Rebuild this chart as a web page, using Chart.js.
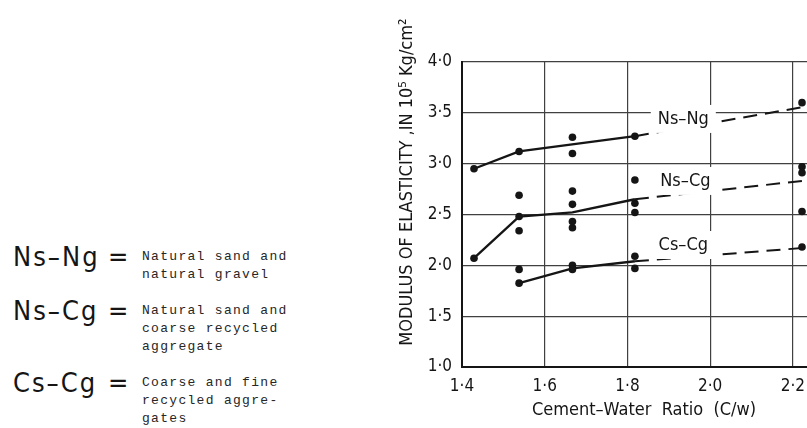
<!DOCTYPE html>
<html><head><meta charset="utf-8">
<script src="https://cdn.jsdelivr.net/npm/chart.js@4/dist/chart.umd.min.js"></script>
<style>
html,body{margin:0;padding:0;width:807px;height:428px;overflow:hidden;background:#fff;}
#wrap{position:absolute;left:340px;top:0;width:520px;height:428px;}
.row{position:absolute;left:0;width:330px;}
.key{position:absolute;left:13px;top:-6px;font-family:'DejaVu Sans Condensed','DejaVu Sans',sans-serif;font-size:27px;letter-spacing:2px;line-height:30px;color:#151515;white-space:nowrap;}
.eq{position:absolute;left:108px;top:-6px;font-family:'DejaVu Sans Condensed','DejaVu Sans',sans-serif;font-size:27px;line-height:30px;color:#151515;}
.desc{position:absolute;left:142px;top:0;font-family:'Liberation Mono','DejaVu Sans Mono',monospace;font-size:13px;letter-spacing:1.3px;line-height:18px;color:#262626;white-space:pre;}
#r0{top:248px;} #r1{top:302px;} #r2{top:374px;}
</style></head><body>
<div id="legend"><div class="row" id="r0"></div><div class="row" id="r1"></div><div class="row" id="r2"></div></div>
<div id="wrap"><canvas id="c" width="520" height="428"></canvas></div>
<script>
// ---- data ----
const seriesNames = ['Ns\u2013Ng', 'Ns\u2013Cg', 'Cs\u2013Cg'];
const seriesDescriptions = [
  'Natural sand and\nnatural gravel',
  'Natural sand and\ncoarse recycled\naggregate',
  'Coarse and fine\nrecycled aggre-\ngates'
];
const xTickValues = [1.4, 1.6, 1.8, 2.0, 2.2];
const yTickValues = [1.0, 1.5, 2.0, 2.5, 3.0, 3.5, 4.0];

// Ns-Ng
const nsNgPointsX = [1.429, 1.538, 1.667, 1.667, 1.818, 2.222];
const nsNgPointsY = [2.95, 3.12, 3.26, 3.10, 3.27, 3.60];
const nsNgSolidX = [1.429, 1.538, 1.818];
const nsNgSolidY = [2.95, 3.12, 3.27];
const nsNgDashX = [1.818, 2.222];
const nsNgDashY = [3.27, 3.555];
// Ns-Cg
const nsCgPointsX = [1.429, 1.538, 1.538, 1.538, 1.667, 1.667, 1.667, 1.667, 1.818, 1.818, 1.818, 2.222, 2.222, 2.222];
const nsCgPointsY = [2.07, 2.69, 2.48, 2.34, 2.73, 2.60, 2.43, 2.37, 2.84, 2.61, 2.52, 2.97, 2.91, 2.53];
const nsCgSolidX = [1.429, 1.538, 1.667, 1.818];
const nsCgSolidY = [2.07, 2.48, 2.52, 2.65];
const nsCgDashX = [1.818, 2.222];
const nsCgDashY = [2.65, 2.83];
// Cs-Cg
const csCgPointsX = [1.538, 1.538, 1.667, 1.667, 1.818, 1.818, 2.222];
const csCgPointsY = [1.96, 1.825, 2.00, 1.96, 2.09, 1.97, 2.18];
const csCgSolidX = [1.538, 1.667, 1.818];
const csCgSolidY = [1.825, 1.97, 2.04];
const csCgDashX = [1.818, 2.222];
const csCgDashY = [2.04, 2.17];
// in-plot label anchors (data coordinates)
const labelAnchorX = [1.935, 1.94, 1.935];
const labelAnchorY = [3.44, 2.83, 2.20];

// ---- legend ----
seriesNames.forEach((n, i) => {
  const r = document.getElementById('r' + i);
  r.innerHTML = '<span class="key"></span><span class="eq">=</span><div class="desc"></div>';
  r.querySelector('.key').textContent = n;
  r.querySelector('.desc').textContent = seriesDescriptions[i];
});

// ---- chart ----
const FONT = "'DejaVu Sans Condensed','DejaVu Sans',sans-serif";
const pts = (xs, ys) => xs.map((x, i) => ({x, y: ys[i]}));
const INK = '#151515';
const lineDs = (xs, ys, dash) => ({
  data: pts(xs, ys), showLine: true, borderColor: INK, borderWidth: dash ? 2 : 2.3,
  borderDash: dash ? [14, 8] : [], pointRadius: 0, tension: 0, fill: false
});
const pointDs = (xs, ys) => ({
  data: pts(xs, ys), showLine: false, pointRadius: 3.8, pointBackgroundColor: INK,
  pointBorderColor: INK, pointBorderWidth: 0
});
const fmt = v => v.toFixed(1).replace('.', '\u00b7');

const inlineLabels = {
  id: 'inlineLabels',
  afterDatasetsDraw(chart) {
    const {ctx, scales: {x, y}} = chart;
    ctx.save();
    ctx.font = '18px ' + FONT;
    ctx.textAlign = 'center';
    ctx.textBaseline = 'middle';
    seriesNames.forEach((name, i) => {
      const px = x.getPixelForValue(labelAnchorX[i]);
      const py = y.getPixelForValue(labelAnchorY[i]);
      const w = ctx.measureText(name).width;
      ctx.fillStyle = '#fff';
      ctx.fillRect(px - w / 2 - 7, py - 14, w + 14, 28);
      ctx.fillStyle = INK;
      ctx.fillText(name, px, py);
    });
    ctx.restore();
  }
};

new Chart(document.getElementById('c'), {
  type: 'scatter',
  data: {
    datasets: [
      lineDs(nsNgSolidX, nsNgSolidY, false), lineDs(nsNgDashX, nsNgDashY, true),
      lineDs(nsCgSolidX, nsCgSolidY, false), lineDs(nsCgDashX, nsCgDashY, true),
      lineDs(csCgSolidX, csCgSolidY, false), lineDs(csCgDashX, csCgDashY, true),
      pointDs(nsNgPointsX, nsNgPointsY), pointDs(nsCgPointsX, nsCgPointsY), pointDs(csCgPointsX, csCgPointsY)
    ]
  },
  options: {
    responsive: false, animation: false, devicePixelRatio: 1,
    layout: {padding: {left: 54, top: 62, right: 34, bottom: 3}},
    plugins: {legend: {display: false}, tooltip: {enabled: false}},
    scales: {
      x: {
        type: 'linear', min: 1.4, max: 2.28,
        afterFit: s => { s.height = 58; },
        afterBuildTicks: s => { s.ticks = xTickValues.map(v => ({value: v})); },
        ticks: {callback: v => fmt(v), color: INK, font: {family: FONT, size: 17}, padding: 9, maxRotation: 0, autoSkip: false},
        grid: {color: '#404040', lineWidth: 1.2, drawTicks: false, tickLength: 0},
        border: {display: true, color: INK, width: 2},
        title: {display: true, text: 'Cement\u2013Water  Ratio  (C/w)', color: INK, font: {family: FONT, size: 18}, padding: 4}
      },
      y: {
        type: 'linear', min: 1, max: 4,
        afterFit: s => { s.width = 68; },
        afterBuildTicks: s => { s.ticks = yTickValues.map(v => ({value: v})); },
        ticks: {callback: v => fmt(v), color: INK, font: {family: FONT, size: 17}, padding: 10, autoSkip: false},
        grid: {color: '#404040', lineWidth: 1.2, drawTicks: false, tickLength: 0},
        border: {display: true, color: INK, width: 2},
        title: {display: true, text: '\u2002\u2002\u2002\u2002\u2002\u2002\u2002\u2002MODULUS OF ELASTICITY ,IN 10\u2075 Kg/cm\u00b2', color: INK, font: {family: FONT, size: 18}, padding: 3}
      }
    }
  },
  plugins: [inlineLabels]
});
</script>
</body></html>
